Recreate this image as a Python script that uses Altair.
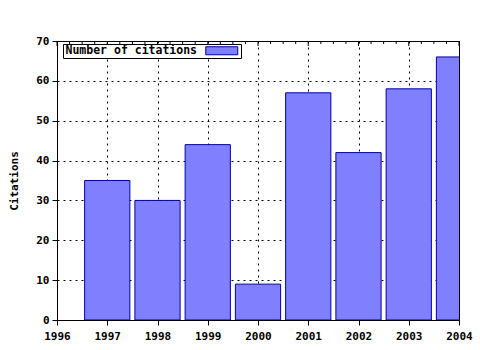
import altair as alt
import pandas as pd

years = [1997, 1998, 1999, 2000, 2001, 2002, 2003, 2004]
citations = [35, 30, 44, 9, 57, 42, 58, 66]
series = ["Number of citations"] * len(years)

x_ticks = [1996 + i * 0.25 for i in range(33)]

df = pd.DataFrame({"year": years, "citations": citations, "series": series})
df["x0"] = df["year"] - 0.45
df["x1"] = df["year"] + 0.45

ticks_df = pd.DataFrame({"t": x_ticks})
ticks_df["major"] = ticks_df["t"] % 1 == 0

FONT = "DejaVu Sans Mono"
xscale = alt.Scale(domain=[1996, 2004], nice=False, zero=False)
yscale = alt.Scale(domain=[0, 70], nice=False)

is_major = "datum.value % 1 === 0"

bars = alt.Chart(df).mark_rect(
    fill="#8080ff", stroke="#0000a0", strokeWidth=1, clip=True
).encode(
    x=alt.X("x0:Q", scale=xscale, title=None,
            axis=alt.Axis(
                values=x_ticks, format="d",
                labelExpr=f"{is_major} ? datum.label : ''",
                tickSize={"condition": {"test": is_major, "value": 5}, "value": 3},
                gridOpacity={"condition": {"test": is_major, "value": 1}, "value": 0},
                grid=True, gridColor="#000000", gridDash=[2, 4], gridWidth=1,
                domainColor="#000000", tickColor="#000000",
                labelFont=FONT, labelFontWeight="bold", labelFontSize=11,
                labelColor="#000000", labelPadding=5, labelFlush=False,
            )),
    x2="x1:Q",
    y=alt.Y("citations:Q", scale=yscale, title="Citations",
            axis=alt.Axis(
                values=[0, 10, 20, 30, 40, 50, 60, 70],
                grid=True, gridColor="#000000", gridDash=[2, 4], gridWidth=1,
                domainColor="#000000", tickColor="#000000", tickSize=5,
                labelFont=FONT, labelFontWeight="bold", labelFontSize=11,
                labelColor="#000000", labelPadding=3,
                titleFont=FONT, titleFontWeight="bold", titleFontSize=11,
                titleColor="#000000", titlePadding=16,
            )),
    y2=alt.datum(0),
    color=alt.Color("series:N",
                    scale=alt.Scale(range=["#8080ff"]),
                    legend=alt.Legend(
                        title=None, orient="none", legendX=6, legendY=3,
                        strokeColor="#000000", padding=1,
                        symbolType="M-4,-1H4V1H-4Z", symbolSize=64,
                        symbolOffset=152, labelOffset={"expr": "-162"},
                        symbolFillColor="#8080ff", symbolStrokeColor="#0000a0",
                        symbolStrokeWidth=1, symbolOpacity=1,
                        labelFont=FONT, labelFontWeight="bold", labelFontSize=11.5,
                        labelColor="#000000",
                        fillColor="#ffffff",
                    )),
)

top_ticks = alt.Chart(ticks_df).mark_rule(color="#000000", strokeWidth=1).encode(
    x=alt.X("t:Q", scale=xscale),
    y=alt.value(0),
    y2=alt.value(3),
).transform_filter("datum.major == false")
top_major = alt.Chart(ticks_df).mark_rule(color="#000000", strokeWidth=1).encode(
    x=alt.X("t:Q", scale=xscale),
    y=alt.value(0),
    y2=alt.value(5),
).transform_filter("datum.major == true")

chart = alt.layer(bars, top_ticks, top_major).properties(
    width=402, height=279,
    autosize=alt.AutoSizeParams(type="none"),
    padding={"left": 57, "top": 41, "right": 21, "bottom": 30},
    background="#ffffff",
).configure_view(stroke="#000000", strokeWidth=1)

chart.save("out.html", embed_options={"renderer": "svg", "actions": False})
